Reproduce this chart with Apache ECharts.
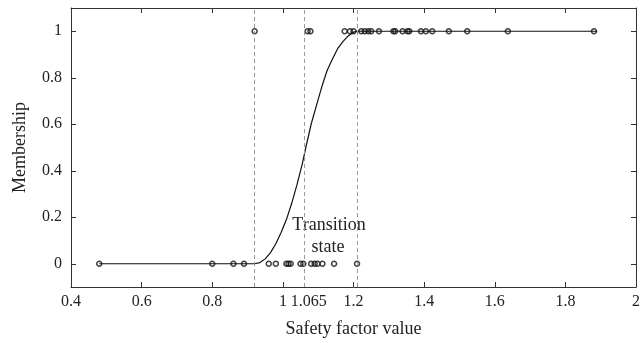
<!DOCTYPE html>
<html><head><meta charset="utf-8">
<script src="https://cdn.jsdelivr.net/npm/echarts@6/dist/echarts.min.js"></script>
<style>html,body{margin:0;padding:0;background:#fff;}#c{width:643px;height:343px;}</style>
</head><body><div id="c"></div>
<script>
// Tick labels
const xTicks = [0.4, 0.6, 0.8, 1, 1.065, 1.2, 1.4, 1.6, 1.8, 2];
const xTickMarks = [0.4, 0.6, 0.8, 1, 1.2, 1.4, 1.6, 1.8, 2];
const yTicks = [0, 0.2, 0.4, 0.6, 0.8, 1];
// Transition boundaries (dashed lines)
const boundaries = [0.92, 1.065, 1.21];
// Observed samples with membership 0
const sampleX0 = [0.48, 0.80, 0.86, 0.89, 0.96, 0.98, 1.01, 1.016, 1.022, 1.05, 1.058, 1.08, 1.09, 1.098, 1.112, 1.145, 1.21];
// Observed samples with membership 1
const sampleX1 = [0.92, 1.07, 1.078, 1.175, 1.19, 1.20, 1.222, 1.232, 1.242, 1.25, 1.272, 1.313, 1.318, 1.339, 1.353, 1.358, 1.391, 1.405, 1.423, 1.47, 1.522, 1.637, 1.881];
// Membership curve
const curveX = [0.48, 0.92, 0.935, 0.95, 0.965, 0.98, 0.995, 1.01, 1.025, 1.04, 1.055, 1.065, 1.08, 1.095, 1.11, 1.125, 1.14, 1.155, 1.17, 1.185, 1.2, 1.21, 1.89];
const curveY = [0, 0, 0.005, 0.021, 0.048, 0.086, 0.134, 0.19, 0.26, 0.34, 0.43, 0.5, 0.6, 0.68, 0.76, 0.83, 0.88, 0.925, 0.955, 0.98, 0.996, 1, 1];

const font = '"Liberation Serif", "DejaVu Serif", serif';
const chart = echarts.init(document.getElementById('c'), null, {renderer: 'canvas'});
const tick = vals => ({show: true, inside: true, length: 5, lineStyle: {color: '#333'}, customValues: vals});
const axisCommon = {
  type: 'value', splitLine: {show: false},
  axisLine: {show: true, onZero: false, lineStyle: {color: '#333', width: 1}}
};
const curveData = curveX.map((x, i) => [x, curveY[i]]);
const labelStyle = {fontFamily: font, fontSize: 16, color: '#222'};
chart.setOption({
  animation: false,
  textStyle: {fontFamily: font},
  grid: {left: 71, right: 3, top: 8, bottom: 52},
  xAxis: [
    Object.assign({}, axisCommon, {
      min: 0.4, max: 2, position: 'bottom',
      name: 'Safety factor value', nameLocation: 'middle', nameGap: 33,
      nameTextStyle: {fontFamily: font, fontSize: 18, color: '#222'},
      axisTick: tick(xTickMarks),
      axisLabel: Object.assign({margin: 7, customValues: xTicks, hideOverlap: false,
        formatter: v => Math.abs(v - 1.065) < 1e-6 ? '{s|1.065}' : String(Math.round(v * 1000) / 1000),
        rich: {s: {fontFamily: font, fontSize: 16, color: '#222', padding: [0, 0, 0, 6]}}}, labelStyle)
    }),
    Object.assign({}, axisCommon, {
      min: 0.4, max: 2, position: 'top',
      axisTick: tick(xTickMarks), axisLabel: {show: false}
    })
  ],
  yAxis: [
    Object.assign({}, axisCommon, {
      min: -0.1, max: 1.1, position: 'left',
      name: 'Membership', nameLocation: 'middle', nameGap: 42, nameRotate: 90,
      nameTextStyle: {fontFamily: font, fontSize: 18, color: '#222'},
      axisTick: tick(yTicks),
      axisLabel: Object.assign({margin: 9, customValues: yTicks}, labelStyle)
    }),
    Object.assign({}, axisCommon, {
      min: -0.1, max: 1.1, position: 'right',
      axisTick: tick(yTicks), axisLabel: {show: false}
    })
  ],
  series: [
    {
      type: 'line', data: curveData, showSymbol: false, smooth: false,
      lineStyle: {color: '#111', width: 1.2}, z: 3,
      markLine: {
        silent: true, symbol: ['none', 'none'], label: {show: false},
        lineStyle: {color: '#999', type: [4, 3], width: 1},
        data: boundaries.map(b => ({xAxis: b}))
      }
    },
    {
      type: 'scatter', data: sampleX0.map(x => [x, 0]), symbol: 'circle', symbolSize: 5,
      itemStyle: {color: 'rgba(0,0,0,0)', borderColor: '#111', borderWidth: 1.5}, z: 4
    },
    {
      type: 'scatter', data: sampleX1.map(x => [x, 1]), symbol: 'circle', symbolSize: 5,
      itemStyle: {color: 'rgba(0,0,0,0)', borderColor: '#111', borderWidth: 1.5}, z: 4
    }
  ],
  graphic: [
    {type: 'text', x: 329, y: 225, style: {text: 'Transition', font: '18px ' + font, fill: '#222', align: 'center', verticalAlign: 'middle'}},
    {type: 'text', x: 328, y: 247, style: {text: 'state', font: '18px ' + font, fill: '#222', align: 'center', verticalAlign: 'middle'}}
  ]
});
</script></body></html>
